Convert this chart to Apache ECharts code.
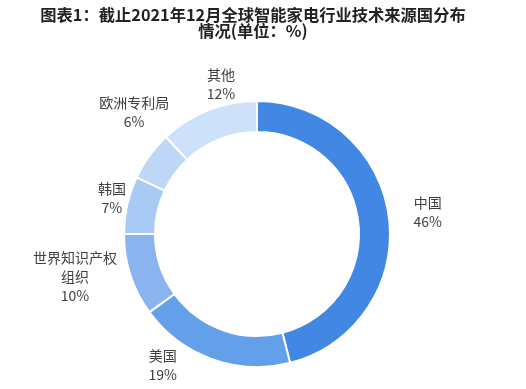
<!DOCTYPE html>
<html><head><meta charset="utf-8">
<script src="https://cdn.jsdelivr.net/npm/echarts@6/dist/echarts.min.js"></script>
<style>html,body{margin:0;padding:0;background:#fff}#c{width:526px;height:389px}</style>
</head><body><div id="c"></div>
<script>
var categories = ['中国', '美国', '世界知识产权组织', '韩国', '欧洲专利局', '其他'];
var values = [46, 19, 10, 7, 6, 12];
var colors = ['#4287e3', '#64a0e9', '#89b4ef', '#a9caf4', '#bfd7f7', '#cde1fa'];
// label nudges (px) relative to the library's outside position
var labelDx = [9, -39, -27, 14, 9, 24];
var labelDy = [-1, -22, -8, 0, -26, 2];

var chart = echarts.init(document.getElementById('c'));
chart.setOption({
  animation: false,
  title: {
    text: '图表1：截止2021年12月全球智能家电行业技术来源国分布\n情况(单位：%)',
    left: 248, top: 2, textAlign: 'center',
    textStyle: { fontFamily: 'Noto Sans CJK SC', fontSize: 16.3, fontWeight: 'bold', color: '#222', lineHeight: 16 }
  },
  series: [{
    type: 'pie',
    center: [257, 234],
    radius: [102, 133],
    startAngle: 90,
    clockwise: true,
    avoidLabelOverlap: false,
    itemStyle: { borderColor: '#fff', borderWidth: 2 },
    label: {
      show: true, position: 'outside',
      formatter: '{b}\n{c}%',
      fontFamily: 'Noto Sans CJK SC', fontSize: 14, color: '#404040', lineHeight: 19,
      width: 88, overflow: 'break', distanceToLabelLine: 0
    },
    labelLine: { show: false, length: 30, length2: 0 },
    labelLayout: function (p) {
      return { align: 'center', verticalAlign: 'middle', dx: labelDx[p.dataIndex], dy: labelDy[p.dataIndex] };
    },
    data: categories.map(function (n, i) {
      return { name: n, value: values[i], itemStyle: { color: colors[i] } };
    })
  }]
});
</script></body></html>
